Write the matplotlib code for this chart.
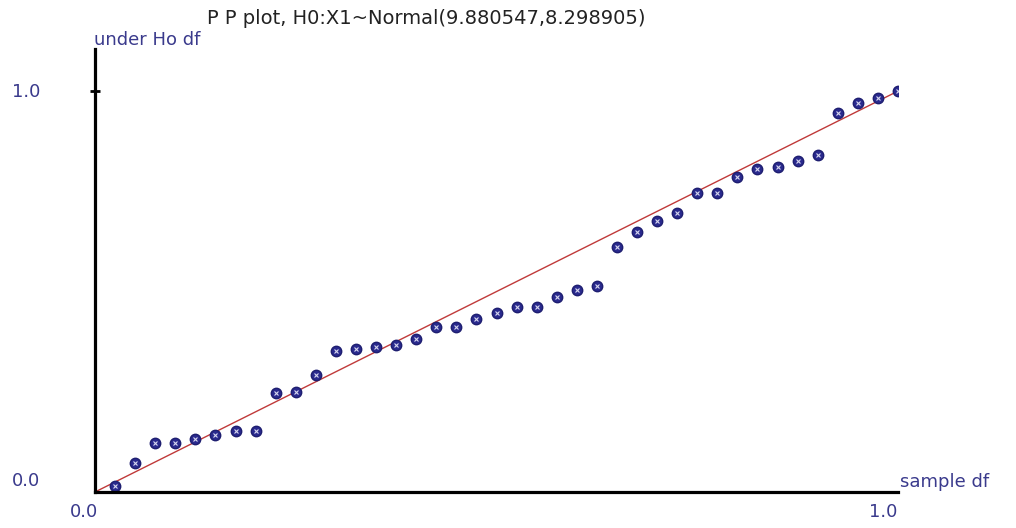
import matplotlib
matplotlib.use('Agg')
import matplotlib.pyplot as plt

# sample df (x) and df under H0 (y)
sample_df = [0.025, 0.050, 0.075, 0.100, 0.125, 0.150, 0.175, 0.200, 0.225, 0.250,
             0.275, 0.300, 0.325, 0.350, 0.375, 0.400, 0.425, 0.450, 0.475, 0.500,
             0.525, 0.550, 0.575, 0.600, 0.625, 0.650, 0.675, 0.700, 0.725, 0.750,
             0.775, 0.800, 0.825, 0.850, 0.875, 0.900, 0.925, 0.950, 0.975, 1.000]
h0_df = [0.015, 0.072, 0.122, 0.122, 0.132, 0.143, 0.152, 0.152, 0.246, 0.250,
         0.292, 0.352, 0.356, 0.362, 0.367, 0.381, 0.412, 0.411, 0.431, 0.446,
         0.461, 0.461, 0.486, 0.505, 0.515, 0.610, 0.649, 0.676, 0.695, 0.745,
         0.745, 0.786, 0.805, 0.811, 0.826, 0.840, 0.946, 0.971, 0.982, 1.000]
ref_line = [0.0, 1.0]

title = 'P P plot, H0:X1~Normal(9.880547,8.298905)'
label_color = '#3a3a8c'
W, H = 1016, 528

plt.rcParams['font.family'] = ['DejaVu Sans']
fig = plt.figure(figsize=(W / 100, H / 100), dpi=100)
ax = fig.add_axes([95 / W, 36 / H, 803 / W, 443 / H])

ax.plot(ref_line, ref_line, color='#c03a3a', lw=1.0, zorder=1)
ax.plot(sample_df, h0_df, 'o', color='#2a2a8e', ms=7.5, mec='#1e1e70', zorder=2)
ax.plot(sample_df, h0_df, 'x', color='#d8d8f0', ms=3.0, mew=0.8, zorder=3)

ax.set_xlim(0, 1.0)
ax.set_ylim(0, 1.105)
for s in ['top', 'right']:
    ax.spines[s].set_visible(False)
for s in ['left', 'bottom']:
    ax.spines[s].set_linewidth(2.3)
    ax.spines[s].set_color('black')
ax.set_xticks([])
ax.set_yticks([1.0])
ax.set_yticklabels([''])
ax.tick_params(axis='y', direction='inout', length=7, width=2, color='black')

# labels placed like the original
fs = 13
fig.text(26 / W, 1 - 92 / H, '1.0', color=label_color, fontsize=fs, ha='center', va='center')
fig.text(26 / W, 1 - 481 / H, '0.0', color=label_color, fontsize=fs, ha='center', va='center')
fig.text(84 / W, 1 - 512 / H, '0.0', color=label_color, fontsize=fs, ha='center', va='center')
fig.text(883 / W, 1 - 512 / H, '1.0', color=label_color, fontsize=fs, ha='center', va='center')
fig.text(900 / W, 1 - 482 / H, 'sample df', color=label_color, fontsize=fs, ha='left', va='center')
fig.text(94 / W, 1 - 40 / H, 'under Ho df', color=label_color, fontsize=fs, ha='left', va='center')
fig.text(207 / W, 1 - 18 / H, title, color='#222222', fontsize=14, ha='left', va='center')

fig.savefig('out.png', dpi=100)
